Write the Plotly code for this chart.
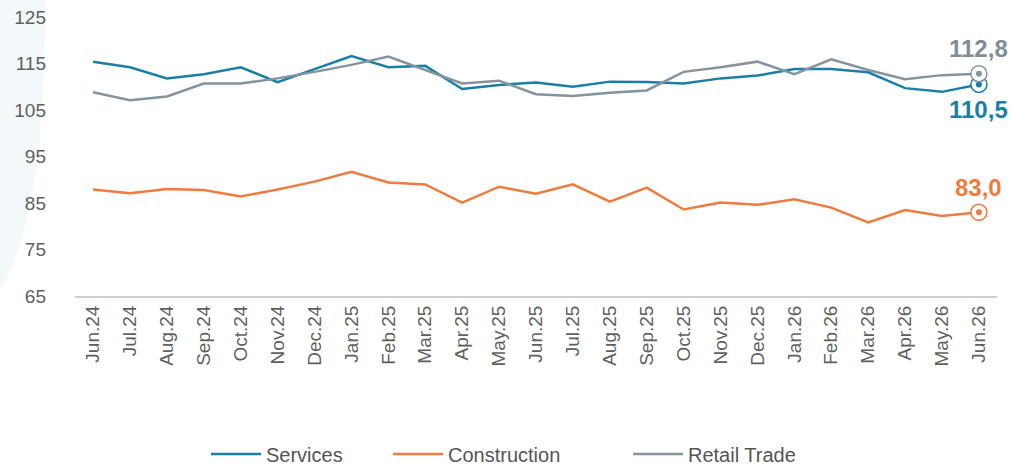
import plotly.graph_objects as go

months = ["Jun.24", "Jul.24", "Aug.24", "Sep.24", "Oct.24", "Nov.24", "Dec.24",
          "Jan.25", "Feb.25", "Mar.25", "Apr.25", "May.25", "Jun.25", "Jul.25",
          "Aug.25", "Sep.25", "Oct.25", "Nov.25", "Dec.25", "Jan.26", "Feb.26",
          "Mar.26", "Apr.26", "May.26", "Jun.26"]

services = [115.4, 114.2, 111.8, 112.7, 114.2, 111.0, 113.8, 116.6, 114.2, 114.5,
            109.5, 110.4, 110.9, 110.0, 111.1, 111.0, 110.7, 111.8, 112.4, 113.8,
            113.8, 113.1, 109.7, 108.9, 110.5]

construction = [87.9, 87.1, 88.0, 87.8, 86.4, 87.9, 89.6, 91.7, 89.4, 89.0,
                85.1, 88.5, 87.0, 89.0, 85.3, 88.3, 83.6, 85.1, 84.6, 85.8,
                84.0, 80.8, 83.5, 82.2, 83.0]

retail = [108.8, 107.1, 107.9, 110.7, 110.7, 111.8, 113.2, 114.7, 116.5, 113.6,
          110.7, 111.3, 108.4, 108.0, 108.7, 109.2, 113.2, 114.2, 115.4, 112.7,
          115.9, 113.6, 111.6, 112.5, 112.8]

y_ticks = [65, 75, 85, 95, 105, 115, 125]

series = [
    ("Services", services, "#1a7fa6", -25, "legend", 206),
    ("Construction", construction, "#f07b3f", 25, "legend2", 388),
    ("Retail Trade", retail, "#84949f", 25, "legend3", 628),
]
label_colors = {"Services": "#1a7fa6", "Construction": "#f07b3f", "Retail Trade": "#7f8e99"}

W, H = 1012, 466
L, R, T, B = 75, 15, 17, 170
pw, ph = W - L - R, H - T - B


def px(x, y):
    return (x - L) / pw, (H - B - y) / ph


fig = go.Figure()

legend_defs = {}
for name, vals, color, _, lg, lx in series:
    fig.add_trace(go.Scatter(
        x=months, y=vals, mode="lines", name=name, legend=lg,
        line=dict(color=color, width=2.5),
        hoverinfo="skip",
    ))
    legend_defs[lg] = dict(
        orientation="h", xref="paper", x=(lx - L) / pw, xanchor="left",
        yref="container", y=(H - 454) / H, yanchor="middle",
        font=dict(size=20, color="#555555"), itemwidth=50,
        bgcolor="rgba(0,0,0,0)", borderwidth=0,
    )

for name, vals, color, shift, lg, _ in series:
    fig.add_trace(go.Scatter(
        x=[months[-1]], y=[vals[-1]], mode="markers", showlegend=False,
        marker=dict(size=16, color="white", line=dict(color=color, width=1.5)),
        hoverinfo="skip", cliponaxis=False,
    ))
    fig.add_trace(go.Scatter(
        x=[months[-1]], y=[vals[-1]], mode="markers", showlegend=False,
        marker=dict(size=6, color=color),
        hoverinfo="skip", cliponaxis=False,
    ))
    fig.add_annotation(
        x=months[-1], y=vals[-1], yshift=shift, showarrow=False,
        text=f"{vals[-1]:.1f}".replace(".", ","),
        font=dict(family="Liberation Sans", size=24, color=label_colors[name], weight="bold"),
    )

# light background arc on the left
p0 = px(0, 0)
p1 = px(45, 0)
c1 = px(45, 130)
c2 = px(35, 230)
p2 = px(0, 290)
path = (f"M {p0[0]},{p0[1]} L {p1[0]},{p1[1]} "
        f"C {c1[0]},{c1[1]} {c2[0]},{c2[1]} {p2[0]},{p2[1]} Z")
fig.add_shape(type="path", path=path, xref="paper", yref="paper",
              fillcolor="#f3f8fa", line=dict(width=0), layer="below")

fig.update_layout(
    width=W, height=H,
    margin=dict(l=L, r=R, t=T, b=B, autoexpand=False),
    paper_bgcolor="white", plot_bgcolor="rgba(0,0,0,0)",
    font=dict(family="Liberation Sans", color="#5f5f5f"),
    showlegend=True,
    legend=legend_defs["legend"],
    legend2=legend_defs["legend2"],
    legend3=legend_defs["legend3"],
    xaxis=dict(
        type="category", range=[-0.49, len(months) - 0.51],
        showgrid=False, zeroline=False, automargin=False,
        showline=True, linecolor="#d0d0d0", linewidth=2,
        tickangle=-90, tickfont=dict(size=19, color="#5f5f5f"),
        ticks="", fixedrange=True,
    ),
    yaxis=dict(
        range=[65, 125], tickvals=y_ticks, showgrid=False, zeroline=False,
        showline=False, tickfont=dict(size=19, color="#5f5f5f"), automargin=False,
        ticklabelstandoff=28, ticks="", fixedrange=True,
    ),
)

fig.write_html("out.html",
               config={"displayModeBar": False, "staticPlot": True},
               post_script="document.body.style.margin='0';document.body.style.overflow='hidden';")
